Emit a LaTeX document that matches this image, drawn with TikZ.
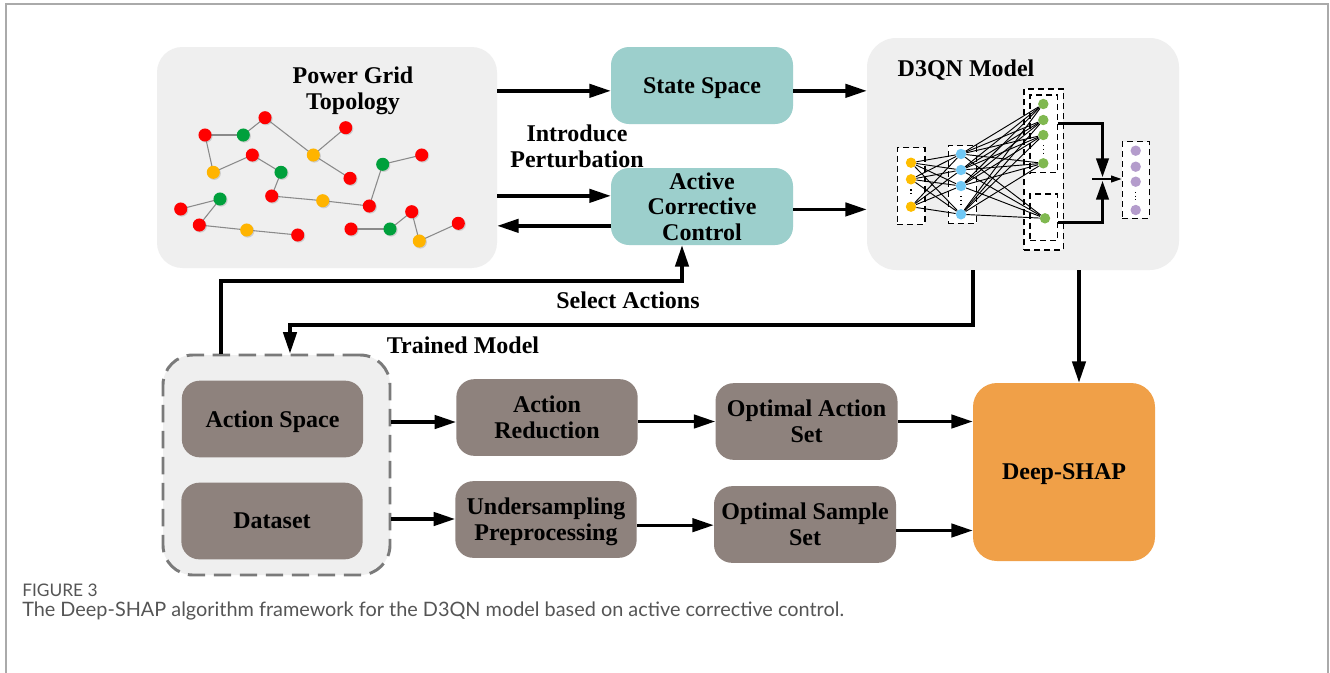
\documentclass[tikz,border=0pt]{standalone}
\usepackage{fontspec}
\setmainfont{Liberation Serif}
\newfontfamily\capfont{Lato}
\usetikzlibrary{arrows.meta,shadows}

\definecolor{panelgray}{HTML}{EFEFEF}
\definecolor{tealc}{HTML}{9CCFCC}
\definecolor{brownc}{HTML}{8E827D}
\definecolor{orangec}{HTML}{F0A048}
\definecolor{dashgray}{HTML}{7A7A7A}
\definecolor{framegray}{HTML}{AAAAAA}
\definecolor{gred}{HTML}{FF0000}
\definecolor{ggreen}{HTML}{00A03C}
\definecolor{gyellow}{HTML}{FFB400}
\definecolor{edgegray}{HTML}{8A8A8A}
\definecolor{nyellow}{HTML}{FFBE00}
\definecolor{nblue}{HTML}{70C8F5}
\definecolor{ngreen}{HTML}{80B850}
\definecolor{npurple}{HTML}{B49CCC}
\definecolor{capgray}{HTML}{555555}

\newcommand\lblfont{\fontsize{18}{19.3}\selectfont\bfseries}

\tikzset{
  panel/.style={fill=panelgray, rounded corners=19pt, inner sep=0pt},
  tealbox/.style={fill=tealc, rounded corners=13.5pt, minimum width=136.5pt,
    minimum height=57.75pt, align=center, font=\lblfont, inner sep=0pt, text depth=0pt},
  brownbox/.style={fill=brownc, rounded corners=13.5pt, minimum width=136pt,
    minimum height=57.5pt, align=center, font=\lblfont, inner sep=0pt, text depth=0pt},
  lbl/.style={align=center, font=\lblfont, inner sep=0pt},
  arr/.style={line width=2.5pt, -{Triangle[length=16pt,width=10pt]}},
  carr/.style={line width=1.6pt, -{Triangle[length=14pt,width=9.5pt]}},
  sarr/.style={line width=1.4pt, -{Triangle[length=8pt,width=5pt]}},
  gnode/.style={circle, inner sep=0pt, minimum size=9.8pt,
    drop shadow={shadow xshift=0.8pt, shadow yshift=-0.8pt, opacity=0.3}},
  gedge/.style={edgegray, line width=0.8pt},
  nn/.style={circle, inner sep=0pt, minimum size=7.8pt},
  dbox/.style={draw=black, fill=white, dash pattern=on 4.5pt off 3pt,
    line width=0.9pt, inner sep=0pt},
  wire/.style={line width=0.7pt},
  vdots/.style={line width=0.9pt, dash pattern=on 0.8pt off 2pt},
}

\begin{document}
\begin{tikzpicture}[x=0.75pt,y=-0.75pt]
\useasboundingbox (0,0) rectangle (1330,672);
\fill[white] (0,0) rectangle (1330,672);
\draw[framegray, line width=1.4pt] (6,690) -- (6,4) -- (1328,4) -- (1328,690);

% ---------- upper panels ----------
\node[panel, minimum width=255pt, minimum height=165.75pt] (grid) at (327,157.5) {};
\node[lbl] (gridtitle) at (353,91) {Power Grid\\Topology};

\node[panel, rounded corners=22pt, minimum width=234pt, minimum height=174pt] (d3qn) at (1023,154) {};
\node[lbl] (d3qntitle) at (966,70.5) {D3QN Model};

\node[tealbox] (state) at (702,85.5) {State Space};
\node[tealbox] (acc) at (702,206.5) {Active\\Corrective\\Control};

% ---------- power grid topology ----------
\foreach \n/\x/\y/\c in {
  1/205/135/gred, 2/243.3/135/ggreen, 3/265/117.7/gred, 4/313.3/155/gyellow,
  5/345.7/127.7/gred, 6/350/178.3/gred, 7/213.3/172.3/gyellow, 8/252.3/155/gred,
  9/281/172.3/ggreen, 10/271.7/196/gred, 11/322.7/200.7/gyellow, 12/369.3/206/gred,
  13/382.7/164.3/ggreen, 14/421.7/155/gred, 15/180.7/209/gred, 16/220/199/ggreen,
  17/199.3/225/gred, 18/246.7/230/gyellow, 19/297.7/235/gred, 20/351/229/gred,
  21/390/229/ggreen, 22/411.7/211.7/gred, 23/419.3/241/gyellow, 24/458.3/223.3/gred}
  \coordinate (c\n) at (\x,\y);
\foreach \a/\b in {1/2,2/3,3/4,4/5,4/6,1/7,7/8,8/9,9/10,10/11,11/12,12/13,13/14,
  15/16,16/17,17/18,18/19,20/21,21/22,22/23,23/24}
  \draw[gedge] (c\a) -- (c\b);
\foreach \n/\c in {1/gred,2/ggreen,3/gred,4/gyellow,5/gred,6/gred,7/gyellow,8/gred,
  9/ggreen,10/gred,11/gyellow,12/gred,13/ggreen,14/gred,15/gred,16/ggreen,17/gred,
  18/gyellow,19/gred,20/gred,21/ggreen,22/gred,23/gyellow,24/gred}
  \node[gnode, fill=\c] (g\n) at (c\n) {};

% ---------- D3QN network ----------
\node[dbox, minimum width=20.8pt, minimum height=57.5pt] (ib) at (911.2,186) {};
\node[dbox, minimum width=21.3pt, minimum height=58.2pt] (hb) at (962.5,184.5) {};
\node[dbox, minimum width=29.5pt, minimum height=120.75pt] (ob) at (1043.7,169.5) {};
\node[dbox, minimum width=20.5pt, minimum height=58.3pt] (tb) at (1043.7,133.9) {};
\node[dbox, minimum width=20.5pt, minimum height=35pt] (bb) at (1043.7,217.4) {};
\node[dbox, minimum width=20.25pt, minimum height=57.5pt] (pb) at (1135.8,180) {};

\foreach \n/\y in {1/162.7,2/179.3,3/206.7}
  \node[nn, fill=nyellow] (i\n) at (911,\y) {};
\foreach \n/\y in {1/154,2/170,3/186,4/214.3}
  \node[nn, fill=nblue] (h\n) at (961,\y) {};
\foreach \n/\x/\y in {1/1043.3/104,2/1043.3/120,3/1043.3/135,4/1043.3/163.3,5/1045/218.3}
  \node[nn, fill=ngreen] (o\n) at (\x,\y) {};
\foreach \n/\y in {1/150.7,2/166.7,3/181.7,4/210}
  \node[nn, fill=npurple] (p\n) at (1135.7,\y) {};

\foreach \a in {1,2,3}
  \foreach \b in {1,2,3,4}
    \draw[wire] (i\a) -- (h\b);
\foreach \a in {1,2,3,4}
  \foreach \b in {1,2,3,4,5}
    \draw[wire] (h\a) -- (o\b);

\draw[vdots] ([yshift=-3.5pt]i2.south) -- ([yshift=3.5pt]i3.north);
\draw[vdots] ([yshift=-3.5pt]h3.south) -- ([yshift=3.5pt]h4.north);
\draw[vdots] ([yshift=-3.5pt]o3.south) -- ([yshift=3.5pt]o4.north);
\draw[vdots] ([yshift=-3.5pt]p3.south) -- ([yshift=3.5pt]p4.north);

\coordinate (cjt) at (1102.5,177);
\coordinate (cjb) at (1102.5,181);
\coordinate (cjl) at (1092,179);
\draw[carr] ([yshift=7.8pt]tb.east) -| (cjt);
\draw[carr] ([yshift=-3.8pt]bb.east) -| (cjb);
\draw[sarr] (cjl) -- (cjl -| pb.west);

% ---------- lower part ----------
\node[panel, rounded corners=22.5pt, draw=dashgray, line width=2.2pt,
  dash pattern=on 13pt off 6.5pt, minimum width=170.25pt, minimum height=165pt]
  (cont) at (276.5,465) {};
\node[brownbox] (aspace) at (272.5,419) {Action Space};
\node[brownbox] (dataset) at (272,521) {Dataset};
\node[brownbox] (ared) at (547,417.5) {Action\\Reduction};
\node[brownbox] (under) at (546,519.5) {Undersampling\\Preprocessing};
\node[brownbox, minimum width=136.5pt] (oaset) at (806.5,421.5) {Optimal Action\\Set};
\node[brownbox, minimum width=136.5pt] (osset) at (805,524.5) {Optimal Sample\\Set};
\node[fill=orangec, rounded corners=18pt, minimum width=136.5pt, minimum height=133.5pt,
  font=\lblfont, inner sep=0pt, text depth=0pt] (deep) at (1064,472) {Deep-SHAP};

% ---------- connectors ----------
\draw[arr] ([yshift=-4pt]state.west -| grid.east) -- ([yshift=-4pt]state.west);
\draw[arr] ([yshift=8pt]acc.west -| grid.east) -- ([yshift=8pt]acc.west);
\draw[arr] ([yshift=-14.5pt]acc.west) -- ([yshift=-14.5pt]acc.west -| grid.east);
\draw[arr] ([yshift=-4pt]state.east) -- ([yshift=-4pt]state.east -| d3qn.west);
\draw[arr] ([yshift=-2.2pt]acc.east) -- ([yshift=-2.2pt]acc.east -| d3qn.west);
\node[lbl] (perturb) at (577,146) {Introduce\\Perturbation};

\coordinate (sa) at (221,281);
\draw[arr] (sa |- cont.north) -- (sa) -| ([xshift=-15pt]acc.south);
\node[lbl] (selact) at (628,300) {Select Actions};

\coordinate (tm) at (290,325);
\draw[arr] ([xshift=-37.5pt]d3qn.south) |- (tm) -- (tm |- cont.north);
\node[lbl] (trained) at (463,345) {Trained Model};

\draw[arr] ([xshift=42pt]d3qn.south) -- ([xshift=42pt]d3qn.south |- deep.north);

\draw[arr] ([yshift=-2.25pt]aspace.east -| cont.east) -- ([yshift=-2.25pt]aspace.east -| ared.west);
\draw[arr] ([yshift=1.5pt]dataset.east -| cont.east) -- ([yshift=1.5pt]dataset.east -| under.west);
\draw[arr] (oaset.west -| ared.east) -- (oaset.west);
\draw[arr] ([yshift=-0.5pt]osset.west -| under.east) -- ([yshift=-0.5pt]osset.west);
\draw[arr] (oaset.east) -- (oaset.east -| deep.west);
\draw[arr] ([yshift=-4.5pt]osset.east) -- ([yshift=-4.5pt]osset.east -| deep.west);

% ---------- caption ----------
\node[anchor=base west, inner sep=0pt, text=capgray, font=\capfont\fontsize{13}{15}\selectfont]
  (figlbl) at (22,596) {FIGURE 3};
\node[anchor=base west, inner sep=0pt, text=capgray, font=\capfont\fontsize{14.9}{17}\selectfont]
  (caption) at (22,616) {The Deep-SHAP algorithm framework for the D3QN model based on active corrective control.};
\end{tikzpicture}
\end{document}
